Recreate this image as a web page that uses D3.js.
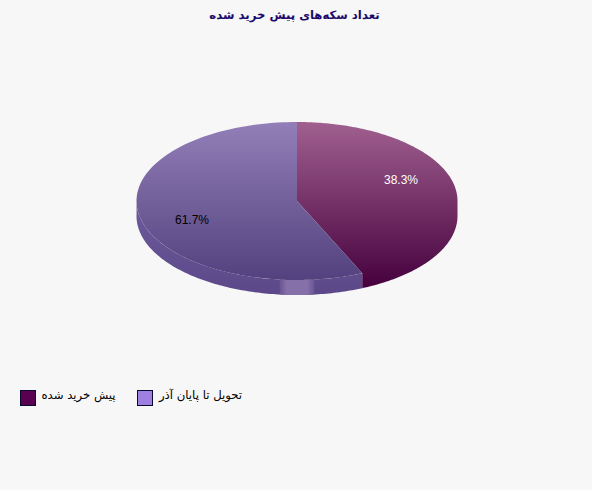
<!DOCTYPE html>
<html>
<head>
<meta charset="utf-8">
<script src="https://cdn.jsdelivr.net/npm/d3@7"></script>
<style>
  html, body { margin: 0; padding: 0; background: #f7f7f7; }
  svg { display: block; }
  text { font-family: "DejaVu Sans", sans-serif; }
</style>
</head>
<body>
<script>
const title = 'تعداد سکه‌های پیش خرید شده'
const categories = ['پیش خرید شده', 'تحویل تا پایان آذر']
const values = [38.3, 61.7]
const valueLabels = ['38.3%', '61.7%']
const swatchColors = ['#5a0052', '#9f7fe0']

const WIDTH = 592
const HEIGHT = 490
const cx = 297
const cy = 201
const rx = 160.5
const ry = 79
const depth = 15

// the pie is drawn tilted, so the boundary is further round on screen than the true share
const angle = d3.scaleLinear()
  .domain([0, values[0], d3.sum(values)])
  .range([0, 156 * Math.PI / 180, 2 * Math.PI])

const svg = d3.select('body')
  .append('svg')
  .attr('width', WIDTH)
  .attr('height', HEIGHT)

svg.append('rect')
  .attr('width', WIDTH)
  .attr('height', HEIGHT)
  .attr('fill', '#f7f7f7')

const defs = svg.append('defs')
const addGradient = (id, y1, y2, c1, c2) => {
  const g = defs.append('linearGradient')
    .attr('id', id)
    .attr('gradientUnits', 'userSpaceOnUse')
    .attr('x1', 0).attr('x2', 0)
    .attr('y1', y1).attr('y2', y2)
  g.append('stop').attr('offset', 0).attr('stop-color', c1)
  g.append('stop').attr('offset', 1).attr('stop-color', c2)
}
addGradient('topMaroon', 122, 289, '#a0608f', '#45003d')
addGradient('topPurple', 122, 281, '#937fb8', '#52417e')
addGradient('rimPurple', 205, 295, '#6b5a9c', '#5c4888')

const band = defs.append('linearGradient').attr('id', 'band')
band.append('stop').attr('offset', 0).attr('stop-color', '#6a5592')
band.append('stop').attr('offset', 0.2).attr('stop-color', '#8570aa')
band.append('stop').attr('offset', 0.8).attr('stop-color', '#8570aa')
band.append('stop').attr('offset', 1).attr('stop-color', '#6a5592')

const line = d3.line()
const ellipsePoint = (a, dy) => [cx + rx * Math.sin(a), cy - ry * Math.cos(a) + dy]
const arcPoints = (a0, a1, dy) => d3.range(0, 121).map(i => ellipsePoint(a0 + (a1 - a0) * i / 120, dy))

const rimPath = (a0, a1) => line(arcPoints(a0, a1, 0).concat(arcPoints(a0, a1, depth).reverse())) + 'Z'
const wedgePath = (a0, a1) => line([[cx, cy]].concat(arcPoints(a0, a1, 0))) + 'Z'
// maroon slice: one outline with its rim, no seam between face and side
const hullPath = (a0, a1) => line(
  [[cx, cy]]
    .concat(arcPoints(a0, Math.PI / 2, 0))
    .concat(arcPoints(Math.PI / 2, a1, depth))
    .concat([ellipsePoint(a1, 0)])
) + 'Z'

const startOf = i => angle(d3.sum(values.slice(0, i)))
const endOf = i => angle(d3.sum(values.slice(0, i + 1)))

// purple rim and its highlight
svg.append('path')
  .attr('d', rimPath(startOf(1), Math.PI * 1.5 + 0.02))
  .attr('fill', 'url(#rimPurple)')
svg.append('path')
  .attr('d', rimPath(173.8 * Math.PI / 180, 186.2 * Math.PI / 180))
  .attr('fill', 'url(#band)')

// faces
svg.append('path')
  .attr('d', hullPath(startOf(0), endOf(0)))
  .attr('fill', 'url(#topMaroon)')
svg.append('path')
  .attr('d', wedgePath(startOf(1), endOf(1)))
  .attr('fill', 'url(#topPurple)')

// value labels
const labelPos = [[401, 184], [192, 224]]
const labelColors = ['#ffffff', '#000000']
svg.selectAll('text.value')
  .data(valueLabels)
  .enter()
  .append('text')
  .attr('class', 'value')
  .attr('x', (d, i) => labelPos[i][0])
  .attr('y', (d, i) => labelPos[i][1])
  .attr('text-anchor', 'middle')
  .style('font-family', '"Liberation Sans", sans-serif')
  .style('font-size', '12px')
  .attr('fill', (d, i) => labelColors[i])
  .text(d => d)

// title
svg.append('text')
  .attr('x', 294.5)
  .attr('y', 19)
  .attr('text-anchor', 'middle')
  .attr('direction', 'rtl')
  .style('font-size', '11.7px')
  .style('font-weight', 'bold')
  .attr('fill', '#1c0a6b')
  .text(title)

// legend
const legendX = [20, 137]
const legendTextX = [78.5, 200.5]
svg.selectAll('rect.swatch')
  .data(categories)
  .enter()
  .append('rect')
  .attr('class', 'swatch')
  .attr('x', (d, i) => legendX[i] + 0.5)
  .attr('y', 390.5)
  .attr('width', 15)
  .attr('height', 15)
  .attr('fill', (d, i) => swatchColors[i])
  .attr('stroke', '#0a0a30')
svg.selectAll('text.legend')
  .data(categories)
  .enter()
  .append('text')
  .attr('class', 'legend')
  .attr('x', (d, i) => legendTextX[i])
  .attr('y', 399)
  .attr('text-anchor', 'middle')
  .attr('direction', 'rtl')
  .style('font-size', '11.7px')
  .attr('fill', '#000000')
  .text(d => d)
</script>
</body>
</html>
